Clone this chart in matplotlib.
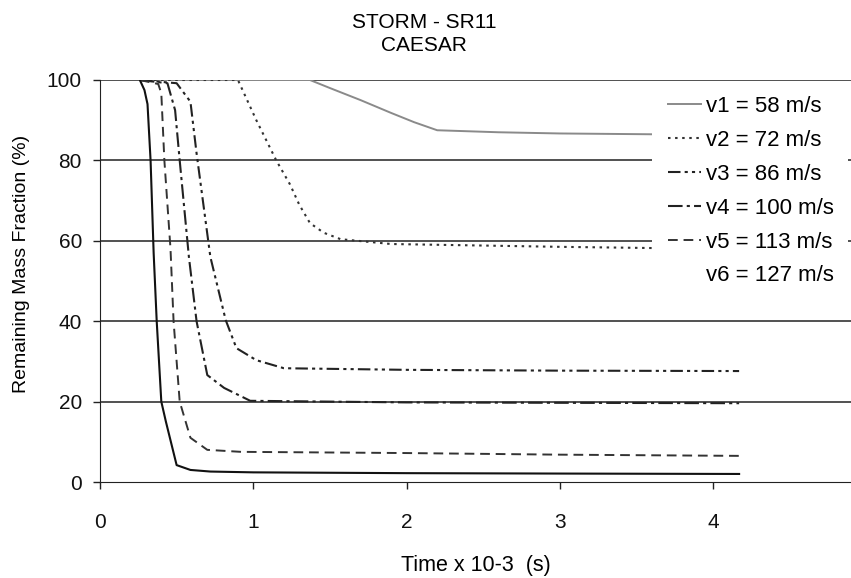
import matplotlib.pyplot as plt
from matplotlib.lines import Line2D
from matplotlib.patches import Rectangle

plt.rcParams['font.family'] = ['Liberation Sans', 'DejaVu Sans']

# time (x 10-3 s) and remaining mass fraction (%)
v1_t = [0.26, 1.37, 1.5, 1.7, 1.9, 2.05, 2.2, 2.6, 3.0, 3.6, 4.17]
v1_m = [100, 100, 98, 95, 91.8, 89.5, 87.5, 87, 86.7, 86.5, 86.4]

v2_t = [0.26, 0.90, 1.02, 1.15, 1.24, 1.30, 1.37, 1.46, 1.57, 1.9, 3.0, 3.6, 4.17]
v2_m = [100, 100, 90, 80, 74, 69, 64.4, 62, 60.4, 59.2, 58.5, 58.2, 58.0]

v3_t = [0.26, 0.50, 0.59, 0.63, 0.72, 0.82, 0.89, 1.02, 1.20, 2.0, 3.0, 4.17]
v3_m = [100, 99.2, 94.6, 81.8, 56, 40.3, 33.3, 30.3, 28.3, 27.9, 27.7, 27.6]

v4_t = [0.26, 0.44, 0.49, 0.52, 0.58, 0.63, 0.70, 0.81, 0.98, 2.0, 3.0, 4.17]
v4_m = [100, 99.2, 92.5, 80, 56, 40, 26.6, 23.4, 20.2, 19.8, 19.7, 19.6]

v5_t = [0.26, 0.38, 0.40, 0.42, 0.46, 0.48, 0.52, 0.59, 0.70, 0.92, 2.0, 3.0, 4.17]
v5_m = [100, 99, 96.7, 80, 58, 40, 20, 11, 8, 7.5, 7.2, 6.8, 6.5]

v6_t = [0.26, 0.29, 0.31, 0.33, 0.35, 0.37, 0.40, 0.43, 0.50, 0.59, 0.72, 1.0, 2.0, 3.0, 4.17]
v6_m = [100, 97.5, 94, 80, 57, 40, 20, 15, 4.2, 3.0, 2.6, 2.4, 2.2, 2.1, 2.0]

labels = ['v1 = 58 m/s', 'v2 = 72 m/s', 'v3 = 86 m/s',
          'v4 = 100 m/s', 'v5 = 113 m/s', 'v6 = 127 m/s']

W, H = 851, 578
fig = plt.figure(figsize=(W / 100, H / 100), dpi=100)
ax = fig.add_axes([100 / W, 1 - 482 / H, 1 - 100 / W, (482 - 80) / H])

# gridlines
for y in [20, 40, 60, 80, 100]:
    ax.axhline(y, color='#333333', lw=1.2, zorder=1)

styles = [
    dict(color='#8a8a8a', ls='-', lw=1.4),
    dict(color='#333333', ls=(0, (1.2, 2.2)), lw=1.5),
    dict(color='#222222', ls=(0, (6, 2, 1.5, 2, 1.5, 2)), lw=1.5),
    dict(color='#222222', ls=(0, (7, 2, 1.5, 2)), lw=1.5),
    dict(color='#333333', ls=(0, (5, 3)), lw=1.4),
    dict(color='#111111', ls='-', lw=1.5),
]
series = [(v1_t, v1_m), (v2_t, v2_m), (v3_t, v3_m),
          (v4_t, v4_m), (v5_t, v5_m), (v6_t, v6_m)]

handles = []
for (t, m), st in zip(series, styles):
    ax.plot(t, m, zorder=3, **st)
    handles.append(Line2D([], [], **st))
handles[-1] = Line2D([], [], color='none')

# white legend area (hides gridlines and line ends like the original)
ax.add_patch(Rectangle((652 / W, 1 - 296 / H), (848 - 652) / W, (296 - 88) / H,
                       transform=fig.transFigure, facecolor='white',
                       edgecolor='none', zorder=4))

leg = fig.legend(handles, labels, loc='upper left',
                 bbox_to_anchor=(668 / W, 1 - 96 / H), frameon=False,
                 fontsize=16, handlelength=1.5, labelspacing=0.58,
                 borderpad=0, handletextpad=0.2, borderaxespad=0)
leg.set_zorder(5)

ax.set_xlim(0, 4.9)
ax.set_ylim(0, 100)
ax.set_xticks([0, 1, 2, 3, 4])
ax.set_yticks([0, 20, 40, 60, 80, 100])
ax.tick_params(direction='out', length=5, width=1, labelsize=15,
               color='#222222', labelcolor='#111111')
ax.tick_params(axis='x', pad=17)
ax.tick_params(axis='y', pad=8)
ax.spines['top'].set_visible(False)
ax.spines['right'].set_visible(False)
ax.spines['left'].set_color('#222222')
ax.spines['bottom'].set_color('#222222')

ax.set_xlabel('Time x 10-3  (s)', fontsize=15.5)
ax.xaxis.set_label_coords(0.5, (482 - 565) / 402)
ax.xaxis.label.set_va('center')
ax.set_ylabel('Remaining Mass Fraction (%)', fontsize=14)
ax.yaxis.set_label_coords((22 - 100) / 751, (482 - 264) / 402)
ax.yaxis.label.set_va('center')

fig.text(424 / W, 1 - 34 / H, 'STORM - SR11\nCAESAR', fontsize=15,
         ha='center', va='center', multialignment='center', linespacing=1.3)

fig.savefig('out.png', dpi=100)
